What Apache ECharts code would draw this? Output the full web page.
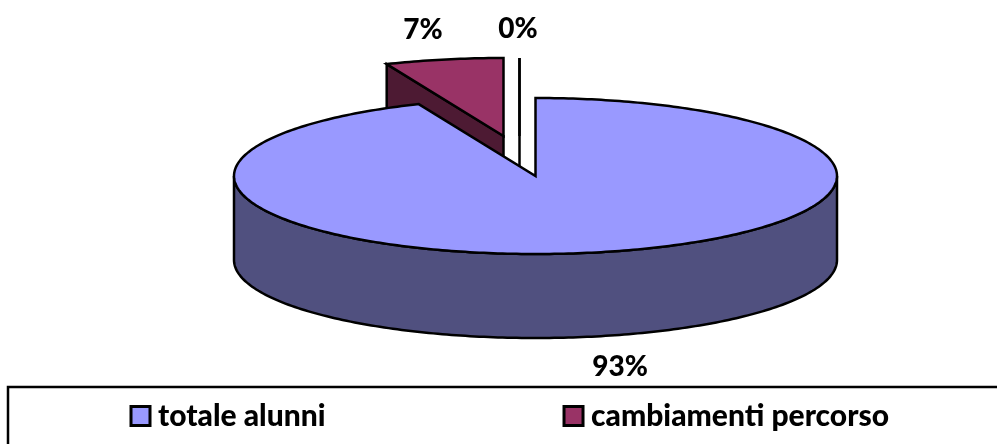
<!DOCTYPE html>
<html><head><meta charset="utf-8">
<style>html,body{margin:0;padding:0;background:#fff}#c{width:997px;height:444px}</style>
<script src="https://cdn.jsdelivr.net/npm/echarts@6/dist/echarts.min.js"></script>
</head><body><div id="c"></div>
<script>
const categories = ['totale alunni', 'cambiamenti percorso', ''];
const values = [93, 7, 0];
const legendNames = ['totale alunni', 'cambiamenti percorso'];

const topColors = ['#9999FF', '#993366', '#FFFFC8'];
const sideColors = ['#50507F', '#4D1A33', '#80806A'];
const explode = [[0, 0], [-32, -40], [-16, -40]];
const labelPos = [[620, 367], [423, 30], [518, 29]];
const cx = 535.5, cy = 176, rx = 301.5, ry = 78, depth = 84, persp = 0.893;
const FONT = 'Lato, "Open Sans", sans-serif';

const total = values.reduce((a, b) => a + b, 0);
const startAngle = values.map((_, i) => values.slice(0, i).reduce((a, b) => a + b, 0) / total * 360);
const stroke = { stroke: '#000', lineWidth: 2.5, lineJoin: 'miter' };

function pt(a, ox, oy, d) {
  const r = a * Math.PI / 180;
  const sn = persp * Math.sin(r), cs = Math.cos(r), len = Math.hypot(sn, cs);
  return [cx + ox + rx * sn / len, cy + oy - ry * cs / len + (d || 0)];
}
function renderSlice(i) {
  return function (params, api) {
    const v = api.value(0);
    const a0 = startAngle[i], a1 = a0 + v / total * 360;
    const [ox, oy] = explode[i];
    const apex = [cx + ox, cy + oy];
    const apexLow = [apex[0], apex[1] + depth];
    const children = [];
    const edge = a => {
      const p = pt(a, ox, oy);
      children.push({ type: 'polygon', shape: { points: [p, apex, apexLow, pt(a, ox, oy, depth)] },
        style: Object.assign({ fill: sideColors[i] }, stroke) });
    };
    if (a0 > 180 && a0 <= 360) edge(a0);
    if (a1 >= 0 && a1 < 180) edge(a1);
    const from = Math.max(a0, 90), to = Math.min(a1, 270);
    if (to > from) {
      const up = [], low = [];
      for (let a = from; a <= to; a += 1) { up.push(pt(a, ox, oy)); low.unshift(pt(a, ox, oy, depth)); }
      children.push({ type: 'polygon', shape: { points: up.concat(low) },
        style: Object.assign({ fill: sideColors[i] }, stroke) });
    }
    const arc = [apex];
    for (let a = a0; a < a1; a += 1) arc.push(pt(a, ox, oy));
    arc.push(pt(a1, ox, oy));
    children.push({ type: 'polygon', shape: { points: arc },
      style: Object.assign({ fill: topColors[i] }, stroke) });
    children.push({ type: 'text', x: labelPos[i][0], y: labelPos[i][1],
      style: { text: Math.round(v / total * 100) + '%', fill: '#000', font: '900 28px ' + FONT, align: 'center', verticalAlign: 'middle' } });
    return { type: 'group', children };
  };
}
const chart = echarts.init(document.getElementById('c'), null, { renderer: 'canvas' });
const zOrder = [3, 2, 1];
chart.setOption({
  animation: false,
  backgroundColor: '#fff',
  graphic: [{ type: 'rect', z: 0, shape: { x: 8, y: 387, width: 1000, height: 80 },
    style: { fill: '#fff', stroke: '#000', lineWidth: 2.5 } }],
  legend: {
    data: legendNames.map(n => ({ name: n, itemStyle: { color: topColors[categories.indexOf(n)], borderColor: '#000', borderWidth: 3 } })),
    left: 129.5, top: 401, itemWidth: 19, itemHeight: 19, itemGap: 237, padding: 0, icon: 'rect', selectedMode: false, z: 5,
    textStyle: { fontFamily: FONT, fontWeight: 900, fontSize: 30, color: '#000', padding: [0, 0, 6, 3] }
  },
  series: categories.map((name, i) => ({
    type: 'custom', name, coordinateSystem: 'none', z: zOrder[i], silent: true,
    itemStyle: { color: topColors[i] },
    data: [[values[i]]], renderItem: renderSlice(i)
  }))
});
</script></body></html>
